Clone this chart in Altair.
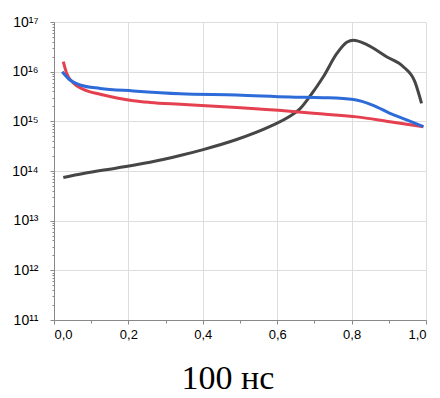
import altair as alt
import pandas as pd

# Curve samples: x position (fraction) and concentration
black_x = [0.025, 0.079, 0.169, 0.258, 0.339, 0.401, 0.491, 0.581, 0.634, 0.661,
           0.688, 0.724, 0.76, 0.787, 0.805, 0.841, 0.894, 0.939, 0.97, 0.988]
black_y = [7.4e13, 8.9e13, 1.15e14, 1.5e14, 2.05e14, 2.7e14, 4.3e14, 7.9e14, 1.26e15, 1.78e15,
           3.2e15, 7.9e15, 2.3e16, 3.9e16, 4.3e16, 3.5e16, 2.0e16, 1.26e16, 6.3e15, 2.3e15]

red_x = [0.025, 0.034, 0.052, 0.079, 0.124, 0.169, 0.213, 0.258, 0.339, 0.491,
         0.634, 0.724, 0.814, 0.903, 0.993]
red_y = [1.6e16, 9.3e15, 5.9e15, 4.4e15, 3.5e15, 2.95e15, 2.6e15, 2.4e15, 2.2e15, 1.9e15,
         1.6e15, 1.4e15, 1.23e15, 9.8e14, 7.8e14]

blue_x = [0.022, 0.043, 0.07, 0.124, 0.213, 0.339, 0.491, 0.634, 0.724, 0.805,
          0.858, 0.903, 0.948, 0.993]
blue_y = [1.0e16, 6.8e15, 5.4e15, 4.6e15, 4.1e15, 3.6e15, 3.4e15, 3.1e15, 3.0e15, 2.75e15,
          2.1e15, 1.45e15, 1.07e15, 7.8e14]

series_names = ["black", "red", "blue"]
series_colors = ["#464646", "#e5404f", "#2c6bd8"]

x_ticks = [round(i * 0.1, 1) for i in range(11)]
decades = [10.0 ** p for p in range(11, 18)]
y_ticks = sorted(decades + [m * 10.0 ** p for p in range(11, 17) for m in range(2, 10)])

sup = str.maketrans("0123456789", "⁰¹²³⁴⁵⁶⁷⁸⁹")
y_label_expr = "".join(
    f"datum.value == {d!r} ? '10{str(p).translate(sup)}' : " for p, d in zip(range(11, 18), decades)
) + "''"

is_decade = "abs(log(datum.value)/LN10 - round(log(datum.value)/LN10)) < 0.001"
is_even_tenth = "abs(datum.value*5 - round(datum.value*5)) < 0.001"

rows = []
for name, xs, ys in [("black", black_x, black_y), ("red", red_x, red_y), ("blue", blue_x, blue_y)]:
    for i, (xv, yv) in enumerate(zip(xs, ys)):
        rows.append({"series": name, "order": i, "x": xv, "y": yv})
df = pd.DataFrame(rows)

chart = alt.Chart(df).mark_line(strokeWidth=3, interpolate="monotone").encode(
    x=alt.X(
        "x:Q",
        scale=alt.Scale(domain=[0, 1], nice=False, zero=False),
        axis=alt.Axis(
            title=None,
            values=x_ticks,
            labelExpr=f"{is_even_tenth} ? replace(format(datum.value, '.1f'), '.', ',') : ''",
            tickSize={"condition": {"test": is_even_tenth, "value": 4}, "value": 3},
            gridOpacity={"condition": {"test": f"{is_even_tenth} && datum.value > 0.01 && datum.value < 0.99", "value": 1}, "value": 0},
            labelFontSize=13,
            labelPadding=4,
        ),
    ),
    y=alt.Y(
        "y:Q",
        scale=alt.Scale(type="log", domain=[1e11, 1e17], nice=False),
        axis=alt.Axis(
            title=None,
            values=y_ticks,
            labelExpr=y_label_expr,
            tickSize={"condition": {"test": is_decade, "value": 4}, "value": 2},
            gridOpacity={"condition": {"test": f"{is_decade} && datum.value > 2e11 && datum.value < 5e16", "value": 1}, "value": 0},
            labelFontSize=14,
            labelPadding=12,
        ),
    ),
    color=alt.Color("series:N", scale=alt.Scale(domain=series_names, range=series_colors), legend=None),
    order="order:Q",
    detail="series:N",
).properties(
    width=372,
    height=298,
    autosize=alt.AutoSizeParams(type="none"),
    padding={"left": 54, "top": 22, "right": 14, "bottom": 78},
    title=alt.TitleParams(
        "100 нс",
        orient="bottom",
        anchor="middle",
        font="Liberation Serif",
        fontSize=34,
        fontWeight="normal",
        color="#000000",
        offset=21,
        dx=-12,
    ),
).configure_axis(
    domainColor="#6e6e6e",
    domainWidth=1.5,
    tickColor="#6e6e6e",
    tickWidth=1,
    gridColor="#ebebeb",
    gridWidth=1,
    labelColor="#6a6a6a",
    labelFont="Liberation Sans",
).configure_view(stroke=None).configure(background="white")

chart.save("out.html", embed_options={"renderer": "svg", "actions": False})
